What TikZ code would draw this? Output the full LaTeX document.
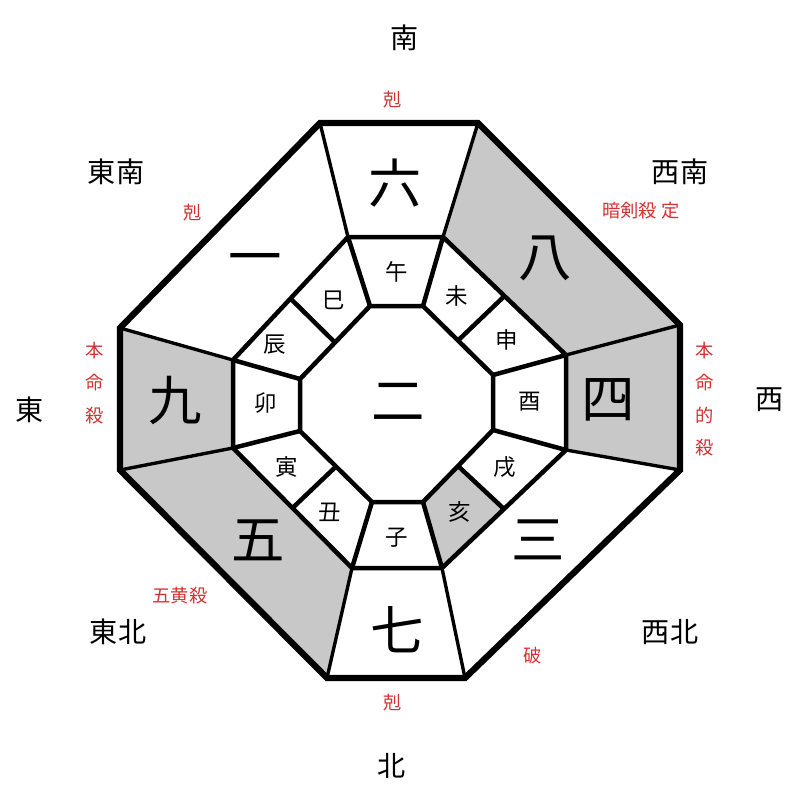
\documentclass[tikz,border=0pt]{standalone}
\usepackage{fontspec}
\setmainfont{Noto Sans CJK JP}
\usetikzlibrary{calc}
\usepackage{xcolor}
\definecolor{sec}{RGB}{200, 200, 200}
\definecolor{kil}{RGB}{210, 50, 50}
\tikzset{
  starnum/.style={font=\fontsize{38}{38}\selectfont, inner sep=0pt},
  branch/.style={font=\fontsize{16}{16}\selectfont, inner sep=0pt},
  dir/.style={font=\fontsize{20}{20}\selectfont, inner sep=0pt},
  killmark/.style={text=kil, font=\fontsize{13}{23}\selectfont, inner sep=0pt, align=center}
}
\begin{document}
\begin{tikzpicture}[x=0.025cm, y=-0.025cm]
      \useasboundingbox (0, 0) rectangle (800, 800);
      % outer, middle and inner rings
      \coordinate (o1) at (320, 123); \coordinate (o2) at (478, 123);
      \coordinate (o3) at (680, 325); \coordinate (o4) at (680, 470);
      \coordinate (o5) at (465, 678); \coordinate (o6) at (327, 678);
      \coordinate (o7) at (120, 470); \coordinate (o8) at (120, 328);
      \coordinate (m1) at (348, 237); \coordinate (m2) at (443, 237);
      \coordinate (m3) at (566, 355); \coordinate (m4) at (566, 450);
      \coordinate (m5) at (442, 568); \coordinate (m6) at (352, 568);
      \coordinate (m7) at (233, 448); \coordinate (m8) at (233, 360);
      \coordinate (i1) at (370, 306); \coordinate (i2) at (423, 306);
      \coordinate (i3) at (493, 375); \coordinate (i4) at (493, 430);
      \coordinate (i5) at (423, 502); \coordinate (i6) at (372, 502);
      \coordinate (i7) at (300, 431); \coordinate (i8) at (300, 379);
      % grey sectors
      \fill[sec] (o2)--(o3)--(m3)--(m2)--cycle;
      \fill[sec] (o3)--(o4)--(m4)--(m3)--cycle;
      \fill[sec] (o7)--(o8)--(m8)--(m7)--cycle;
      \fill[sec] (o6)--(o7)--(m7)--(m6)--cycle;
      \fill[sec] (i4)--(i5)--(m5)--($(m4)!0.5!(m5)$)--($(i4)!0.5!(i5)$)--cycle;
      \draw[line width=4.5pt] (o1)--(o2)--(o3)--(o4)--(o5)--(o6)--(o7)--(o8)--cycle;
      \draw[line width=3.2pt] (m1)--(m2)--(m3)--(m4)--(m5)--(m6)--(m7)--(m8)--cycle;
      \draw[line width=3.2pt] (i1)--(i2)--(i3)--(i4)--(i5)--(i6)--(i7)--(i8)--cycle;
      \foreach \k in {1,...,8} {
        \draw[line width=2.4pt] (m\k)--(o\k);
        \draw[line width=3.2pt] (i\k)--(m\k);
      }
      \foreach \a/\b in {2/3, 4/5, 6/7, 8/1}
        \draw[line width=3.2pt] ($(i\a)!0.5!(i\b)$)--($(m\a)!0.5!(m\b)$);
      % stars
      \node[starnum] (s6) at (395, 183) {六};
      \node[starnum] (s8) at (545, 258) {八};
      \node[starnum] (s1) at (255, 265) {一};
      \node[starnum] (s9) at (175, 400) {九};
      \node[starnum] (s4) at (608, 400) {四};
      \node[starnum] (s5) at (258, 540) {五};
      \node[starnum] (s3) at (538, 540) {三};
      \node[starnum] (s7) at (397, 630) {七};
      \node[starnum] (s2) at (398, 402) {二};
      % branches
      \node[branch] (b1) at (397, 272) {午};
      \node[branch] (b2) at (457, 296) {未};
      \node[branch] (b3) at (507, 340) {申};
      \node[branch] (b4) at (530, 402) {酉};
      \node[branch] (b5) at (505, 467) {戌};
      \node[branch] (b6) at (460, 512) {亥};
      \node[branch] (b7) at (397, 538) {子};
      \node[branch] (b8) at (330, 512) {丑};
      \node[branch] (b9) at (287, 467) {寅};
      \node[branch] (b10) at (266, 403) {卯};
      \node[branch] (b11) at (275, 345) {辰};
      \node[branch] (b12) at (334, 300) {巳};
      % directions
      \node[dir] (dS) at (405, 38) {南};
      \node[dir] (dSE) at (116, 172) {東南};
      \node[dir] (dSW) at (680, 172) {西南};
      \node[dir] (dE) at (30, 410) {東};
      \node[dir] (dW) at (770, 400) {西};
      \node[dir] (dNE) at (118, 632) {東北};
      \node[dir] (dNW) at (670, 632) {西北};
      \node[dir] (dN) at (392, 766) {北};
      % marks
      \node[killmark] (k1) at (393, 100) {剋};
      \node[killmark] (k2) at (193, 213) {剋};
      \node[killmark] (k3) at (641, 211) {暗剣殺\ 定};
      \node[killmark] (k4) at (95, 383) {本\\命\\殺};
      \node[killmark] (k5) at (705, 399) {本\\命\\的\\殺};
      \node[killmark] (k6) at (180, 596) {五黄殺};
      \node[killmark] (k7) at (533, 656) {破};
      \node[killmark] (k8) at (393, 703) {剋};
    \end{tikzpicture}
\end{document}
